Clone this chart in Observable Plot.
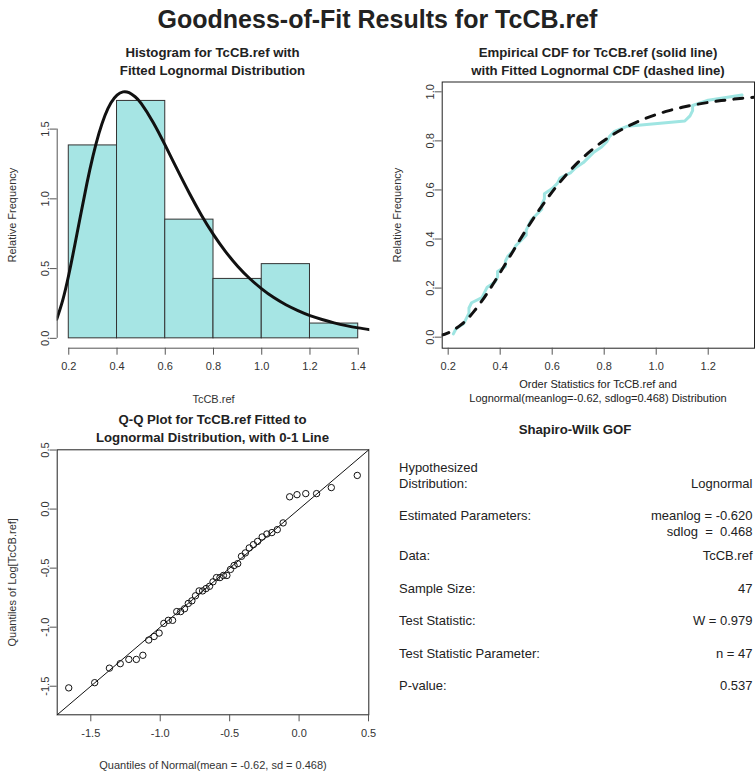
<!DOCTYPE html>
<html>
<head>
<meta charset="utf-8">
<script src="https://cdn.jsdelivr.net/npm/d3@7"></script>
<script src="https://cdn.jsdelivr.net/npm/@observablehq/plot@0.6"></script>
<style>
  body { margin: 0; background: #fff; }
  #page { position: relative; width: 755px; height: 774px; overflow: hidden; background: #fff;
          font-family: "Liberation Sans", Arial, sans-serif; color: #222; }
  .txt { position: absolute; white-space: pre; line-height: 1; }
</style>
</head>
<body>
<div id="page"></div>
<script>
// TcCB concentrations in the reference area (sorted), n = 47
const tccbRef = [0.22,0.23,0.26,0.27,0.28,0.28,0.29,0.33,0.34,0.35,0.38,0.39,0.39,0.42,0.42,0.43,0.45,0.46,0.48,0.50,
  0.50,0.51,0.52,0.54,0.56,0.56,0.57,0.57,0.60,0.62,0.63,0.67,0.69,0.72,0.74,0.76,0.79,0.81,0.82,0.84,
  0.89,1.11,1.13,1.14,1.14,1.20,1.33];
// empirical cumulative probabilities (plotting positions) for the sorted values
const ecdfProb = [0.0132,0.0344,0.0556,0.0767,0.0979,0.1190,0.1402,0.1614,0.1825,0.2037,0.2249,0.2460,0.2672,0.2884,
  0.3095,0.3307,0.3519,0.3730,0.3942,0.4153,0.4365,0.4577,0.4788,0.5000,0.5212,0.5423,0.5635,0.5847,0.6058,0.6270,
  0.6481,0.6693,0.6905,0.7116,0.7328,0.7540,0.7751,0.7963,0.8175,0.8386,0.8598,0.8810,0.9021,0.9233,0.9444,0.9656,0.9868];
// log of the sorted values (Q-Q plot, y)
const logTccb = [-1.514,-1.470,-1.347,-1.309,-1.273,-1.273,-1.238,-1.109,-1.079,-1.050,-0.968,-0.942,-0.942,-0.868,
  -0.868,-0.844,-0.799,-0.777,-0.734,-0.693,-0.693,-0.673,-0.654,-0.616,-0.580,-0.580,-0.562,-0.562,-0.511,-0.478,
  -0.462,-0.400,-0.371,-0.329,-0.301,-0.274,-0.236,-0.211,-0.199,-0.174,-0.117,0.104,0.122,0.131,0.131,0.182,0.285];
// quantiles of Normal(mean = -0.62, sd = 0.468) (Q-Q plot, x)
const normalQuantiles = [-1.659,-1.472,-1.366,-1.288,-1.226,-1.172,-1.125,-1.083,-1.044,-1.008,-0.974,-0.942,-0.911,
  -0.881,-0.853,-0.825,-0.798,-0.772,-0.746,-0.720,-0.695,-0.670,-0.645,-0.620,-0.595,-0.570,-0.545,-0.520,-0.494,
  -0.468,-0.442,-0.415,-0.387,-0.359,-0.329,-0.299,-0.266,-0.232,-0.196,-0.157,-0.115,-0.068,-0.015,0.048,0.126,0.232,0.419];

// histogram bins (relative frequency = density)
const binLower = [0.2,0.4,0.6,0.8,1.0,1.2];
const binUpper = [0.4,0.6,0.8,1.0,1.2,1.4];
const binDensity = [1.383,1.702,0.851,0.426,0.532,0.106];

// fitted lognormal density
const densityX = [0.15,0.175,0.2,0.225,0.25,0.275,0.3,0.325,0.35,0.375,0.4,0.425,0.45,0.475,0.5,0.55,0.6,0.65,0.7,
  0.75,0.8,0.85,0.9,0.95,1.0,1.05,1.1,1.15,1.2,1.25,1.3,1.35,1.4,1.45];
const densityY = [0.137,0.274,0.456,0.669,0.892,1.109,1.304,1.469,1.598,1.689,1.744,1.767,1.761,1.732,1.684,1.548,
  1.383,1.209,1.040,0.883,0.744,0.622,0.517,0.429,0.355,0.292,0.241,0.199,0.163,0.135,0.111,0.091,0.075,0.062];

// fitted lognormal CDF
const cdfX = [0.17,0.2,0.25,0.3,0.35,0.4,0.45,0.5,0.55,0.6,0.65,0.7,0.75,0.8,0.85,0.9,0.95,1.0,1.05,1.1,1.15,1.2,
  1.25,1.3,1.35,1.4];
const cdfY = [0.0069,0.0173,0.0508,0.1061,0.1792,0.2633,0.3514,0.4379,0.5189,0.5922,0.6570,0.7132,0.7612,0.8018,
  0.8359,0.8643,0.8879,0.9074,0.9235,0.9368,0.9477,0.9567,0.9642,0.9703,0.9754,0.9795];

// tick values
const histTicksX = [0.2,0.4,0.6,0.8,1.0,1.2,1.4];
const histTicksY = [0,0.5,1.0,1.5];
const ecdfTicksX = [0.2,0.4,0.6,0.8,1.0,1.2];
const ecdfTicksY = [0,0.2,0.4,0.6,0.8,1.0];
const qqTicks = [-1.5,-1.0,-0.5,0.0,0.5];

// Shapiro-Wilk summary
const gofLabels = ["Hypothesized\nDistribution:","Estimated Parameters:","Data:","Sample Size:","Test Statistic:",
  "Test Statistic Parameter:","P-value:"];
const gofValues = ["Lognormal","meanlog = -0.620\nsdlog  =  0.468","TcCB.ref","47","W = 0.979","n = 47","0.537"];

const page = document.getElementById("page");
const FONT = "'Liberation Sans', Arial, sans-serif";
const fmt1 = d => d.toFixed(1);

// y is the centre of the first line of the text block
function addText(str, x, y, {anchor = "middle", size = 11, weight = "normal", lh = 1}) {
  const el = document.createElement("div");
  el.className = "txt";
  el.textContent = str;
  el.style.fontSize = size + "px";
  el.style.fontWeight = weight;
  el.style.lineHeight = lh;
  el.style.top = (y - size * lh / 2) + "px";
  if (anchor === "middle") { el.style.left = x + "px"; el.style.transform = "translateX(-50%)"; el.style.textAlign = "center"; }
  else if (anchor === "start") { el.style.left = x + "px"; }
  else { el.style.right = (755 - x) + "px"; el.style.textAlign = "right"; }
  page.appendChild(el);
}

function place(svg, left, top) {
  svg.style.position = "absolute";
  svg.style.left = left + "px";
  svg.style.top = top + "px";
  page.appendChild(svg);
}

const baseStyle = {fontFamily: FONT, fontSize: "11px", background: "transparent", color: "#333", overflow: "visible"};

// ---- Histogram with fitted lognormal density ----
const bins = binLower.map((lo, i) => ({lo, hi: binUpper[i], density: binDensity[i]}));
const densityPts = densityX.map((x, i) => ({x, y: densityY[i]}));
const histX = [0.152, 1.448], histY = [-0.0707, 1.8377];
place(Plot.plot({
  width: 377, height: 410,
  marginLeft: 56.7, marginRight: 7.7, marginTop: 81.5, marginBottom: 62.3,
  x: {domain: histX}, y: {domain: histY},
  style: baseStyle,
  marks: [
    Plot.rect(bins, {x1: "lo", x2: "hi", y1: 0, y2: "density", fill: "#a6e5e4", stroke: "#333", strokeWidth: 1}),
    Plot.line(densityPts, {x: "x", y: "y", stroke: "#111", strokeWidth: 3, curve: "natural", clip: true}),
    Plot.ruleX([histX[0]], {y1: histTicksY[0], y2: histTicksY[histTicksY.length - 1], stroke: "#555"}),
    Plot.ruleY([histY[0]], {x1: histTicksX[0], x2: histTicksX[histTicksX.length - 1], stroke: "#555"}),
    Plot.axisX(histTicksX, {tickSize: 7, tickPadding: 7, tickFormat: fmt1, stroke: "#555",
      label: "TcCB.ref", labelAnchor: "center", labelOffset: 55, labelArrow: "none"}),
    Plot.axisY(histTicksY, {tickSize: 7, tickPadding: 1, tickRotate: -90, tickFormat: fmt1, stroke: "#555",
      label: "Relative Frequency", labelAnchor: "center", labelOffset: 49, labelArrow: "none"})
  ]
}), 0, 0);

// ---- Empirical CDF with fitted lognormal CDF ----
const ecdfPts = tccbRef.map((x, i) => ({x, y: ecdfProb[i]}));
const cdfPts = cdfX.map((x, i) => ({x, y: cdfY[i]}));
place(Plot.plot({
  width: 375, height: 410,
  marginLeft: 61.7, marginRight: 1, marginTop: 81.5, marginBottom: 62.3,
  x: {domain: [0.177, 1.378]}, y: {domain: [-0.045, 1.04]},
  style: baseStyle,
  marks: [
    Plot.line(ecdfPts, {x: "x", y: "y", stroke: "#9fe5e2", strokeWidth: 3, clip: true}),
    Plot.line(cdfPts, {x: "x", y: "y", stroke: "#111", strokeWidth: 3, strokeDasharray: "9,9",
      strokeLinecap: "round", curve: "natural", clip: true}),
    Plot.frame({stroke: "#222"}),
    Plot.axisX(ecdfTicksX, {tickSize: 7, tickPadding: 7, tickFormat: fmt1, stroke: "#555", label: null}),
    Plot.axisY(ecdfTicksY, {tickSize: 7, tickPadding: 1, tickRotate: -90, tickFormat: fmt1, stroke: "#555",
      label: "Relative Frequency", labelAnchor: "center", labelOffset: 49, labelArrow: "none"})
  ]
}), 380, 0);

// ---- Q-Q plot against the fitted normal on the log scale ----
const qqPts = normalQuantiles.map((x, i) => ({x, y: logTccb[i]}));
const qqDomain = [-1.742, 0.502];
place(Plot.plot({
  width: 377, height: 407,
  marginLeft: 56.7, marginRight: 8.7, marginTop: 82.3, marginBottom: 59.7,
  x: {domain: qqDomain}, y: {domain: qqDomain},
  style: baseStyle,
  marks: [
    Plot.line(qqDomain, {x: d => d, y: d => d, stroke: "#111", strokeWidth: 1}),
    Plot.dot(qqPts, {x: "x", y: "y", r: 3.2, stroke: "#111", strokeWidth: 1, fill: "none"}),
    Plot.frame({stroke: "#222"}),
    Plot.axisX(qqTicks, {tickSize: 7, tickPadding: 7, tickFormat: fmt1, stroke: "#555",
      label: "Quantiles of Normal(mean = -0.62, sd = 0.468)", labelAnchor: "center", labelOffset: 54, labelArrow: "none"}),
    Plot.axisY(qqTicks, {tickSize: 7, tickPadding: 1, tickRotate: -90, tickFormat: fmt1, stroke: "#555",
      label: "Quantiles of Log[TcCB.ref]", labelAnchor: "center", labelOffset: 49, labelArrow: "none"})
  ]
}), 0, 367);

// ---- titles ----
addText("Goodness-of-Fit Results for TcCB.ref", 377.5, 19, {size: 25, weight: "bold"});
addText("Histogram for TcCB.ref with\nFitted Lognormal Distribution", 212.5, 53, {size: 13.2, weight: "bold", lh: 1.38});
addText("Empirical CDF for TcCB.ref (solid line)\nwith Fitted Lognormal CDF (dashed line)", 598, 53, {size: 13.2, weight: "bold", lh: 1.38});
addText("Q-Q Plot for TcCB.ref Fitted to\nLognormal Distribution, with 0-1 Line", 212.5, 420, {size: 13.2, weight: "bold", lh: 1.3});
addText("Shapiro-Wilk GOF", 575, 430, {size: 13.2, weight: "bold"});
addText("Order Statistics for TcCB.ref and\nLognormal(meanlog=-0.62, sdlog=0.468) Distribution", 598, 385, {size: 11, lh: 1.22});

// ---- Shapiro-Wilk summary table ----
const labelY = [468, 516, 556, 589, 621, 654, 686];
const valueY = [484, 516, 556, 589, 621, 654, 686];
gofLabels.forEach((s, i) => addText(s, 399, labelY[i], {anchor: "start", size: 13, lh: 1.22}));
gofValues.forEach((s, i) => addText(s, 752.5, valueY[i], {anchor: "end", size: 13, lh: 1.18}));
</script>
</body>
</html>
